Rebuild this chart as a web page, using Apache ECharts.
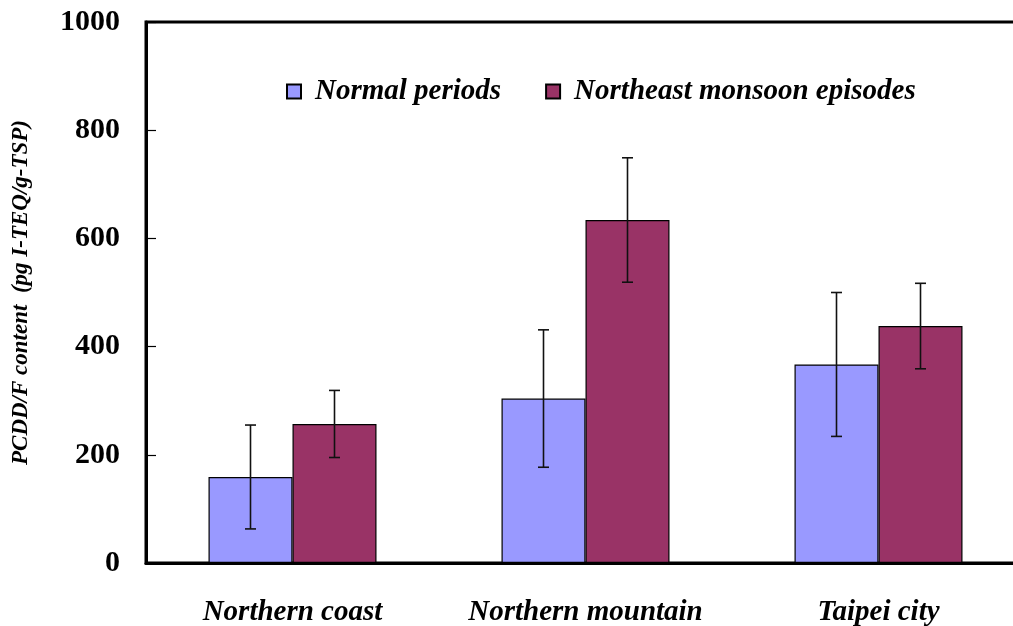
<!DOCTYPE html>
<html>
<head>
<meta charset="utf-8">
<script src="https://cdn.jsdelivr.net/npm/echarts@6/dist/echarts.min.js"></script>
<style>
  html, body { margin: 0; padding: 0; background: #fff; }
  #chart { width: 1013px; height: 626px; }
</style>
</head>
<body>
<div id="chart"></div>
<script>
// Sampling regions
const categories = ['Northern coast', 'Northern mountain', 'Taipei city'];

// Mean PCDD/F content (pg I-TEQ/g-TSP) and one-sided error (standard deviation)
const normalMean = [159, 304, 367];
const normalErr = [96, 127, 133];
const monsoonMean = [257, 634, 438];
const monsoonErr = [62, 115, 79];

const seriesNames = ['Normal periods', 'Northeast monsoon episodes'];
const seriesColors = ['#9999FF', '#993366'];

const FONT = '"Liberation Serif", "Times New Roman", serif';
const BAR_W = 84;

// Error whiskers drawn through the chart's own axes; offset shifts to the bar's centre
function errorSeries(means, errs, offset) {
  return {
    type: 'custom',
    z: 5,
    silent: true,
    data: means.map((m, i) => [i, m - errs[i], m + errs[i]]),
    renderItem: function (params, api) {
      const lo = api.coord([api.value(0), api.value(1)]);
      const hi = api.coord([api.value(0), api.value(2)]);
      const x = lo[0] + offset;
      const cap = 5.5;
      const style = { stroke: '#111', lineWidth: 1.6 };
      return {
        type: 'group',
        children: [
          { type: 'line', shape: { x1: x, y1: lo[1], x2: x, y2: hi[1] }, style: style },
          { type: 'line', shape: { x1: x - cap, y1: hi[1], x2: x + cap, y2: hi[1] }, style: style },
          { type: 'line', shape: { x1: x - cap, y1: lo[1], x2: x + cap, y2: lo[1] }, style: style }
        ]
      };
    }
  };
}

const chart = echarts.init(document.getElementById('chart'), null, { renderer: 'canvas' });

chart.setOption({
  animation: false,
  backgroundColor: '#fff',
  grid: {
    left: 146, top: 22, width: 879, height: 541,
    outerBoundsMode: 'none',
    containLabel: false,
    show: true, borderColor: '#000', borderWidth: 3, backgroundColor: 'transparent'
  },
  legend: {
    left: 281, top: 72,
    itemWidth: 14, itemHeight: 14, itemGap: 44,
    icon: 'rect',
    data: seriesNames,
    textStyle: { fontFamily: FONT, fontSize: 29, fontWeight: 'bold', fontStyle: 'italic', color: '#000', padding: [0, 0, 0, 9] }
  },
  xAxis: {
    type: 'category',
    data: categories,
    axisLine: { lineStyle: { color: '#000', width: 3 } },
    axisTick: { inside: true, length: 10, lineStyle: { color: '#000', width: 1.2 } },
    axisLabel: {
      interval: 0,
      hideOverlap: false,
      margin: 35,
      fontFamily: FONT, fontSize: 29, fontWeight: 'bold', fontStyle: 'italic', color: '#000'
    },
    splitLine: { show: false }
  },
  yAxis: {
    type: 'value',
    min: 0, max: 1000, interval: 200,
    name: 'PCDD/F content  (pg I-TEQ/g-TSP)',
    nameLocation: 'middle',
    nameGap: 113,
    nameRotate: 90,
    nameTextStyle: { fontFamily: FONT, fontSize: 23, fontWeight: 'bold', fontStyle: 'italic', color: '#000' },
    axisLine: { show: true, lineStyle: { color: '#000', width: 3 } },
    axisTick: { show: true, inside: true, length: 10, lineStyle: { color: '#000', width: 1.2 } },
    axisLabel: {
      margin: 26,
      formatter: function (v) { return String(v); },
      fontFamily: FONT, fontSize: 30, fontWeight: 'bold', color: '#000'
    },
    splitLine: { show: false }
  },
  series: [
    {
      name: seriesNames[0], type: 'bar', data: normalMean,
      barWidth: BAR_W, barGap: '0%',
      itemStyle: { color: seriesColors[0], borderColor: '#000', borderWidth: 1.2 }
    },
    {
      name: seriesNames[1], type: 'bar', data: monsoonMean,
      barWidth: BAR_W, barGap: '0%',
      itemStyle: { color: seriesColors[1], borderColor: '#000', borderWidth: 1.2 }
    },
    errorSeries(normalMean, normalErr, -BAR_W / 2),
    errorSeries(monsoonMean, monsoonErr, BAR_W / 2)
  ]
});
</script>
</body>
</html>
